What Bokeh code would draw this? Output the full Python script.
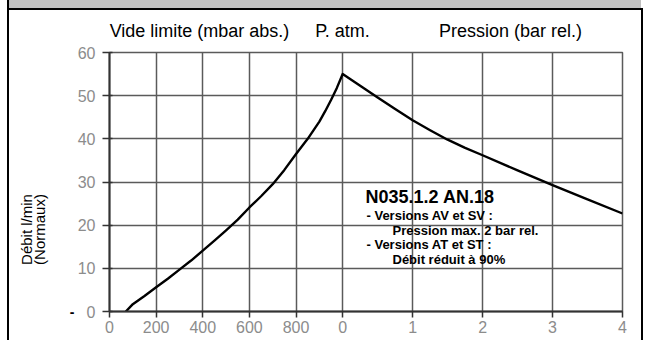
import math
from bokeh.plotting import figure
from bokeh.layouts import column, row
from bokeh.models import FixedTicker, Label, Range1d, LinearAxis
from bokeh.embed import file_html
from bokeh.resources import INLINE

# ---- data ----
vac_mbar = [70, 100, 150, 200, 250, 300, 350, 400, 450, 500, 550, 600, 650, 700, 750, 800, 850, 900, 925, 950, 975, 1000]
vac_flow = [0, 1.7, 3.6, 5.6, 7.6, 9.7, 11.8, 14.1, 16.4, 18.8, 21.3, 24.1, 26.7, 29.5, 32.8, 36.5, 40.0, 44.0, 46.4, 49.0, 51.8, 55]
pres_bar = [0, 0.25, 0.5, 0.75, 1, 1.25, 1.5, 1.75, 2, 2.5, 3, 3.5, 4]
pres_flow = [55, 52.3, 49.6, 46.9, 44.3, 42.0, 39.8, 37.9, 36.2, 32.7, 29.3, 26.0, 22.7]

vac_tick_values = [0, 200, 400, 600, 800]
bar_tick_values = [0, 1, 2, 3, 4]
y_tick_values = [0, 10, 20, 30, 40, 50, 60]

header_texts = ["Vide limite (mbar abs.)", "P. atm.", "Pression (bar rel.)"]
ylabel_lines = ["Débit l/min", "(Normaux)"]
note_title = "N035.1.2 AN.18"
note_lines = ["- Versions AV et SV :", "Pression max. 2 bar rel.", "- Versions AT et ST :", "Débit réduit à 90%"]

# ---- composite x axis: mbar (vacuum) then bar (pressure) ----
P_ATM = 1000      # position of atmospheric pressure on the shared axis
BAR_W = 300       # axis units per bar on the pressure side

xs = list(vac_mbar) + [P_ATM + b * BAR_W for b in pres_bar[1:]]
ys = list(vac_flow) + list(pres_flow[1:])

x_ticks = list(vac_tick_values) + [P_ATM + b * BAR_W for b in bar_tick_values]
x_labels = {v: str(v) for v in vac_tick_values}
for b in bar_tick_values:
    x_labels[P_ATM + b * BAR_W] = str(b)

SANS = "'Liberation Sans', Arial, sans-serif"
W, H = 649, 340
TOP_H = 42
LEFT_W = 66
RIGHT_W = 8


def bare_fig(w, h):
    f = figure(width=w, height=h, output_backend="svg", toolbar_location=None,
               x_axis_location=None, y_axis_location=None, min_border=0,
               x_range=Range1d(0, 1), y_range=Range1d(0, 1))
    f.title.visible = False
    f.outline_line_color = None
    f.grid.visible = False
    f.background_fill_color = None
    f.border_fill_color = None
    return f


def vline_css(x):
    # card frame line painted as the element background (not clipped to any plot frame)
    return {"background": f"linear-gradient(black, black) {x}px 0px / 2px 100% no-repeat, white"}


# ---- header strip (gray band, card frame, column titles) ----
top = bare_fig(W, TOP_H)
top.styles = {"background": "linear-gradient(#c0c0c0, #c0c0c0) 9px 0px / 632px 8px no-repeat, "
                            "linear-gradient(black, black) 7px 8px / 636px 2px no-repeat, "
                            "linear-gradient(black, black) 7px 0px / 2px 100% no-repeat, "
                            "linear-gradient(black, black) 641px 8px / 2px 100% no-repeat, white"}
for txt, cx in zip(header_texts, [199, 342, 510]):
    top.add_layout(Label(x=cx, y=30, x_units="canvas", y_units="canvas", text=txt, text_align="center",
                         text_baseline="middle", text_font=SANS, text_font_size="18px", text_color="black"))

# ---- left strip (frame line, y label) ----
left = bare_fig(LEFT_W, H - TOP_H)
left.styles = vline_css(7)
for txt, cx in zip(ylabel_lines, [26, 39]):
    left.add_layout(Label(x=cx, y=229 - TOP_H, x_units="canvas", y_units="canvas", text=txt, angle=math.pi / 2,
                          text_align="center", text_baseline="middle", text_font=SANS, text_font_size="15px",
                          text_color="black"))

# ---- right strip (frame line) ----
right = bare_fig(RIGHT_W, H - TOP_H)
right.styles = vline_css(0)

# ---- main chart ----
p = figure(width=W - LEFT_W - RIGHT_W, height=H - TOP_H, output_backend="svg", toolbar_location=None,
           x_range=Range1d(0, P_ATM + bar_tick_values[-1] * BAR_W),
           y_range=Range1d(y_tick_values[0], y_tick_values[-1]),
           min_border_left=104 - LEFT_W, min_border_right=(W - RIGHT_W) - 622,
           min_border_top=52 - TOP_H, min_border_bottom=H - 311)
p.title.visible = False
p.background_fill_color = "white"
p.border_fill_color = "white"
p.outline_line_color = "#5a5a5a"
p.outline_line_width = 1.5

for ax in (p.xaxis[0], p.yaxis[0]):
    ax.axis_line_color = "#333333"
    ax.axis_line_width = 2
    ax.major_tick_line_color = "#333333"
    ax.major_tick_line_width = 1.5
    ax.minor_tick_line_color = None
    ax.major_label_text_color = "#8c8c8c"
    ax.major_label_text_font = SANS
    ax.major_label_text_font_size = "16px"

p.xaxis.ticker = FixedTicker(ticks=x_ticks)
p.xaxis.major_label_overrides = x_labels
p.xaxis.major_tick_out = 6
p.xaxis.major_tick_in = 0
p.xaxis.major_label_standoff = 3

p.yaxis.ticker = FixedTicker(ticks=y_tick_values)
p.yaxis.major_tick_out = 7
p.yaxis.major_tick_in = 3
p.yaxis.major_label_standoff = 7

# stray black dash printed left of the "0" label
dash_axis = LinearAxis(ticker=FixedTicker(ticks=[0]), major_label_overrides={0: "-"},
                       axis_line_color=None, major_tick_line_color=None, minor_tick_line_color=None,
                       major_tick_out=0, major_tick_in=0, major_label_standoff=0,
                       major_label_text_color="black", major_label_text_font=SANS,
                       major_label_text_font_style="bold", major_label_text_font_size="14px")
p.add_layout(dash_axis, "left")

p.xgrid.ticker = FixedTicker(ticks=x_ticks)
p.ygrid.ticker = FixedTicker(ticks=y_tick_values)
for g in (p.xgrid[0], p.ygrid[0]):
    g.grid_line_color = "#5a5a5a"
    g.grid_line_width = 1.5

p.line(xs, ys, line_color="black", line_width=2.4, line_join="round")

# ---- note block (vertical centres of each line) ----
p.add_layout(Label(x=365 - LEFT_W, y=196 - TOP_H, x_units="canvas", y_units="canvas", text=note_title,
                   text_baseline="middle", text_font=SANS, text_font_style="bold",
                   text_font_size="18px", text_color="black"))
for txt, lx, cy in zip(note_lines, [366, 392, 366, 392], [215, 229.5, 244, 258.5]):
    p.add_layout(Label(x=lx - LEFT_W, y=cy - TOP_H, x_units="canvas", y_units="canvas", text=txt,
                       text_baseline="middle", text_font=SANS, text_font_style="bold",
                       text_font_size="13px", text_color="black"))

layout = column(top, row(left, p, right))
open("out.html", "w").write(file_html(layout, INLINE))
